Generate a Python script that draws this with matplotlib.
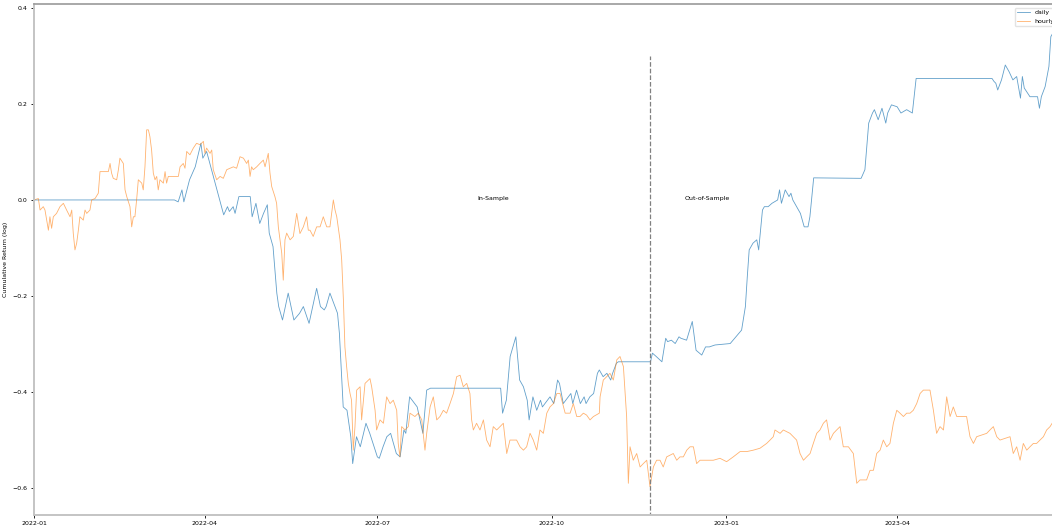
import numpy as np
import pandas as pd
import matplotlib
matplotlib.use("Agg")
import matplotlib.pyplot as plt
import matplotlib.dates as mdates

start = pd.Timestamp("2022-01-01")

# daily strategy: days since start, cumulative log return
daily_days = [0, 74, 76, 78, 79, 82, 85, 88, 89, 91, 95, 96, 100, 102, 103, 105, 106, 108, 114, 115,
              117, 119, 121, 123, 124, 126, 128, 129, 131, 134, 137, 140, 142, 145, 149, 151, 153, 154,
              156, 160, 161, 163, 165, 167, 168, 170, 172, 175, 177, 181, 182, 184, 186, 188, 191, 193,
              195, 196, 198, 202, 205, 207, 209, 246, 247, 249, 251, 254, 256, 258, 260, 261, 263, 265,
              267, 268, 272, 274, 276, 277, 279, 283, 284, 286, 288, 290, 291, 293, 295, 297, 298, 300,
              302, 304, 305, 307, 308, 325, 326, 328, 331, 333, 334, 336, 338, 340, 341, 344, 347, 349,
              352, 354, 356, 359, 367, 370, 373, 375, 376, 377, 379, 381, 382, 384, 385, 387, 389, 392,
              393, 394, 396, 398, 399, 400, 402, 404, 406, 408, 409, 411, 436, 438, 440, 442, 443, 445,
              447, 449, 450, 452, 455, 457, 460, 463, 465, 505, 506, 507, 508, 510, 512, 514, 516, 518,
              520, 521, 522, 525, 529, 530, 531, 533, 535, 536, 537]
daily_vals = [0.0, 0.0, -0.004, 0.021, -0.004, 0.042, 0.069, 0.118, 0.087, 0.101, 0.042, 0.028, -0.031,
              -0.014, -0.024, -0.014, -0.028, 0.007, 0.007, -0.035, -0.007, -0.049, -0.028, -0.010,
              -0.069, -0.097, -0.194, -0.222, -0.250, -0.194, -0.250, -0.236, -0.222, -0.257, -0.184,
              -0.222, -0.229, -0.222, -0.194, -0.236, -0.278, -0.431, -0.438, -0.493, -0.549, -0.493,
              -0.514, -0.465, -0.486, -0.535, -0.538, -0.514, -0.493, -0.486, -0.528, -0.535, -0.479,
              -0.486, -0.410, -0.431, -0.486, -0.396, -0.392, -0.392, -0.444, -0.417, -0.326, -0.285,
              -0.375, -0.389, -0.417, -0.458, -0.410, -0.438, -0.417, -0.431, -0.410, -0.424, -0.375,
              -0.382, -0.424, -0.403, -0.424, -0.396, -0.424, -0.410, -0.424, -0.410, -0.403, -0.361,
              -0.354, -0.368, -0.361, -0.375, -0.361, -0.340, -0.337, -0.337, -0.319, -0.326, -0.337,
              -0.288, -0.295, -0.292, -0.299, -0.285, -0.288, -0.292, -0.253, -0.313, -0.323, -0.306,
              -0.306, -0.302, -0.299, -0.285, -0.271, -0.222, -0.160, -0.104, -0.090, -0.083, -0.104,
              -0.021, -0.014, -0.014, -0.007, 0.0, 0.021, -0.007, 0.021, 0.007, 0.014, 0.0, -0.014,
              -0.028, -0.056, -0.056, -0.035, 0.046, 0.045, 0.063, 0.160, 0.181, 0.188, 0.167, 0.191,
              0.160, 0.181, 0.198, 0.194, 0.181, 0.188, 0.181, 0.253, 0.253, 0.247, 0.243, 0.229, 0.250,
              0.281, 0.267, 0.250, 0.257, 0.212, 0.257, 0.233, 0.215, 0.215, 0.191, 0.215, 0.236, 0.278,
              0.340, 0.347]

# hourly strategy
hourly_days = [0, 2.3, 3.2, 4.9, 5.8, 6.7, 7.6, 8.4, 9.3, 10.2, 11.9, 13.7, 15.5, 17.2, 19.0, 19.9, 20.7,
               21.6, 22.5, 23.4, 24.2, 26.0, 26.9, 27.8, 29.5, 30.4, 32.2, 33.9, 34.8, 39.2, 40.1, 40.9,
               41.8, 43.6, 44.5, 45.3, 47.1, 48.0, 48.9, 50.6, 51.5, 52.4, 53.2, 54.1, 55.0, 56.8, 57.6,
               58.5, 59.4, 60.3, 61.1, 62.0, 62.9, 63.8, 64.7, 65.5, 66.4, 68.2, 69.1, 69.9, 70.8, 72.6,
               76.1, 77.0, 78.7, 79.6, 80.5, 82.2, 84.0, 85.7, 87.5, 89.3, 90.1, 91.0, 92.8, 93.7, 94.5,
               96.3, 98.1, 99.8, 101.6, 103.3, 105.1, 106.8, 108.6, 110.4, 112.1, 113.0, 113.9, 114.7,
               115.6, 117.4, 119.1, 120.9, 121.8, 123.5, 124.4, 125.3, 127.0, 127.9, 128.8, 130.6, 131.4,
               132.3, 133.2, 135.0, 136.7, 138.5, 140.2, 142.0, 143.7, 144.6, 145.5, 147.2, 149.0, 150.8,
               152.5, 154.3, 156.0, 157.8, 158.7, 159.6, 161.3, 162.2, 163.1, 163.9, 164.8, 165.7, 166.6,
               167.4, 168.3, 169.2, 170.1, 171.9, 172.7, 174.5, 177.1, 178.0, 179.8, 180.6, 182.4, 184.2,
               185.9, 187.7, 189.4, 191.2, 192.0, 192.9, 193.8, 195.6, 197.3, 198.2, 200.8, 202.6, 204.4,
               206.1, 207.0, 208.8, 210.5, 212.3, 214.0, 215.8, 217.5, 219.3, 221.1, 222.8, 224.6, 226.3,
               228.1, 229.8, 230.7, 231.6, 233.3, 235.1, 236.9, 238.6, 240.4, 242.1, 243.9, 247.4, 249.2,
               250.9, 254.4, 256.2, 258.0, 259.7, 261.5, 263.2, 265.0, 266.7, 268.5, 270.3, 272.0, 273.8,
               275.6, 277.3, 280.0, 282.6, 284.3, 286.1, 287.8, 289.6, 291.3, 293.1, 294.9, 298.0, 298.4,
               300.1, 301.9, 303.6, 305.4, 306.3, 307.2, 308.9, 310.7, 311.5, 312.4, 313.3, 314.2, 315.9,
               317.7, 319.5, 321.2, 323.0, 324.7, 326.5, 328.2, 330.0, 331.7, 333.5, 337.0, 338.8, 340.5,
               342.3, 344.1, 345.8, 347.6, 349.3, 351.1, 354.6, 358.1, 361.6, 365.1, 368.6, 372.2, 375.7,
               379.2, 382.7, 386.2, 388.0, 389.7, 390.6, 393.3, 395.0, 398.5, 402.0, 403.8, 405.6, 407.3,
               409.1, 410.8, 412.6, 414.3, 416.1, 417.8, 419.6, 421.4, 423.1, 424.9, 426.6, 429.3, 431.9,
               433.7, 435.4, 438.9, 440.7, 442.5, 444.2, 446.0, 447.7, 449.5, 451.2, 453.0, 454.8, 456.5,
               458.3, 460.0, 461.8, 463.5, 465.3, 467.1, 468.8, 472.3, 474.1, 475.8, 477.6, 479.4, 481.1,
               482.9, 484.6, 486.4, 491.6, 493.4, 495.2, 496.9, 502.2, 503.9, 505.7, 507.5, 509.2, 514.5,
               516.2, 518.0, 519.8, 521.5, 523.3, 525.0, 526.8, 528.5, 530.3, 532.1, 533.8, 535.6, 536.7]
hourly_vals = [0.0, 0.003, -0.021, -0.014, -0.021, -0.042, -0.063, -0.035, -0.059, -0.035, -0.028, -0.014,
               -0.007, -0.021, -0.035, -0.021, -0.069, -0.104, -0.090, -0.063, -0.035, -0.042, -0.021,
               -0.028, -0.021, 0.0, 0.003, 0.014, 0.059, 0.059, 0.076, 0.056, 0.045, 0.042, 0.063, 0.087,
               0.076, 0.021, 0.007, -0.014, -0.056, -0.035, -0.035, 0.0, 0.042, 0.035, 0.021, 0.069, 0.146,
               0.146, 0.132, 0.104, 0.056, 0.042, 0.049, 0.021, 0.042, 0.035, 0.059, 0.035, 0.049, 0.049,
               0.049, 0.069, 0.076, 0.066, 0.101, 0.094, 0.108, 0.118, 0.115, 0.122, 0.097, 0.108, 0.097,
               0.104, 0.063, 0.042, 0.049, 0.045, 0.063, 0.066, 0.069, 0.066, 0.090, 0.087, 0.076, 0.083,
               0.049, 0.069, 0.063, 0.069, 0.076, 0.083, 0.069, 0.097, 0.056, 0.028, 0.007, -0.007, -0.056,
               -0.111, -0.167, -0.083, -0.069, -0.083, -0.076, -0.028, -0.070, -0.056, -0.035, -0.063,
               -0.063, -0.076, -0.056, -0.056, -0.035, -0.056, -0.056, 0.0, -0.021, -0.035, -0.083, -0.125,
               -0.208, -0.306, -0.347, -0.382, -0.403, -0.417, -0.521, -0.472, -0.396, -0.389, -0.458,
               -0.382, -0.372, -0.389, -0.438, -0.479, -0.458, -0.465, -0.410, -0.424, -0.417, -0.438,
               -0.507, -0.535, -0.472, -0.479, -0.472, -0.444, -0.451, -0.444, -0.458, -0.521, -0.486,
               -0.431, -0.410, -0.458, -0.451, -0.438, -0.444, -0.424, -0.403, -0.368, -0.365, -0.389,
               -0.382, -0.403, -0.458, -0.479, -0.465, -0.479, -0.458, -0.500, -0.514, -0.472, -0.479,
               -0.465, -0.528, -0.500, -0.500, -0.514, -0.521, -0.514, -0.486, -0.500, -0.521, -0.479,
               -0.486, -0.444, -0.431, -0.424, -0.403, -0.403, -0.444, -0.444, -0.424, -0.451, -0.451,
               -0.444, -0.448, -0.458, -0.451, -0.444, -0.410, -0.375, -0.368, -0.361, -0.375, -0.354,
               -0.333, -0.326, -0.347, -0.396, -0.451, -0.590, -0.514, -0.542, -0.528, -0.556, -0.549,
               -0.542, -0.597, -0.556, -0.542, -0.542, -0.556, -0.535, -0.528, -0.542, -0.535, -0.535,
               -0.521, -0.514, -0.514, -0.549, -0.542, -0.542, -0.542, -0.538, -0.545, -0.535, -0.524,
               -0.524, -0.521, -0.517, -0.507, -0.500, -0.493, -0.479, -0.486, -0.479, -0.486, -0.500,
               -0.528, -0.542, -0.535, -0.528, -0.507, -0.486, -0.479, -0.465, -0.458, -0.500, -0.486,
               -0.479, -0.472, -0.514, -0.514, -0.528, -0.590, -0.583, -0.583, -0.563, -0.563, -0.528,
               -0.521, -0.500, -0.514, -0.507, -0.465, -0.438, -0.444, -0.451, -0.444, -0.444, -0.438,
               -0.424, -0.403, -0.396, -0.396, -0.438, -0.486, -0.472, -0.479, -0.410, -0.451, -0.431,
               -0.451, -0.451, -0.493, -0.507, -0.493, -0.486, -0.479, -0.472, -0.493, -0.500, -0.493,
               -0.528, -0.514, -0.542, -0.507, -0.521, -0.514, -0.507, -0.507, -0.500, -0.493, -0.479,
               -0.472, -0.465]

split_day = 324.7
in_label_day = 242
out_label_day = 355

daily_dates = start + pd.to_timedelta(daily_days, unit="D")
hourly_dates = start + pd.to_timedelta(hourly_days, unit="D")

fs = 4.5
fig = plt.figure(figsize=(10.52, 5.29), dpi=100)
# axes run a little past the right edge, as in the cropped original
ax = fig.add_axes([0.0323, 0.0265, 0.9756, 0.965])

ax.plot(daily_dates, daily_vals, color="C0", lw=0.6, alpha=0.7, label="daily")
ax.plot(hourly_dates, hourly_vals, color="C1", lw=0.6, alpha=0.6, label="hourly")

split = start + pd.Timedelta(days=split_day)
ax.vlines(split, -0.7, 0.3, colors="grey", linestyles="dashed", lw=0.9)
ax.text(start + pd.Timedelta(days=in_label_day), 0.003, "In-Sample", ha="center", va="center", fontsize=fs)
ax.text(start + pd.Timedelta(days=out_label_day), 0.003, "Out-of-Sample", ha="center", va="center", fontsize=fs)

ax.set_xlim(start, start + pd.Timedelta(days=541))
ax.set_ylim(-0.656, 0.407)
ax.xaxis.set_major_locator(mdates.MonthLocator(bymonth=[1, 4, 7, 10]))
ax.xaxis.set_major_formatter(mdates.DateFormatter("%Y-%m"))
ax.tick_params(labelsize=fs, length=2.5, width=0.6, pad=2)
ax.set_ylabel("Cumulative Return (log)", fontsize=fs, labelpad=3)

for side in ["left", "bottom"]:
    ax.spines[side].set_color("#c4c4c4")
    ax.spines[side].set_linewidth(1.4)
ax.spines["top"].set_color("#9a9a9a")
ax.spines["top"].set_linewidth(1.2)

ax.legend(loc="upper right", fontsize=fs, frameon=True, edgecolor="#dddddd", fancybox=True)

fig.savefig("out.png", dpi=100)
